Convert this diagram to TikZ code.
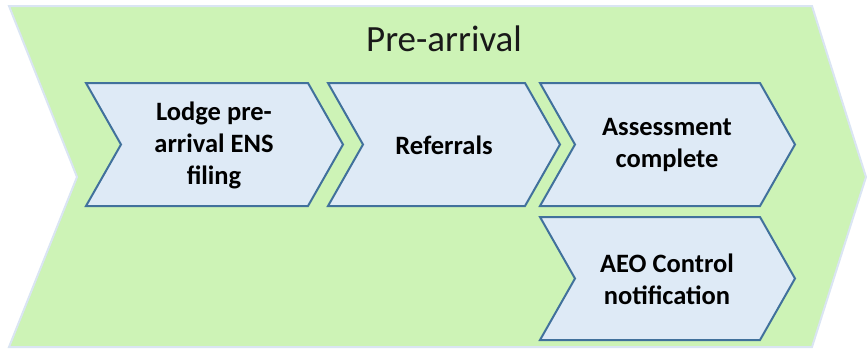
\documentclass[tikz,border=0pt]{standalone}
\usepackage{fontspec}
\setmainfont{Carlito}
\definecolor{outerfill}{RGB}{205,243,182}
\definecolor{outerline}{RGB}{218,229,243}
\definecolor{boxfill}{RGB}{222,234,246}
\definecolor{boxline}{RGB}{65,113,156}
\newcommand\mychev[6]{%
  % #1 x0, #2 x1, #3 y0, #4 y1, #5 depth, #6 style
  \path[#6] (#1,#3) -- (#2,#3) -- ({#2+#5},{(#3+#4)/2}) -- (#2,#4) -- (#1,#4) -- ({#1+#5},{(#3+#4)/2}) -- cycle;}
\begin{document}
\begin{tikzpicture}[x=1pt,y=-1pt,
  outerstyle/.style={fill=outerfill,draw=outerline,line width=2pt,line join=miter},
  boxstyle/.style={fill=boxfill,draw=boxline,line width=2pt,line join=miter},
  boxtext/.style={align=center,font=\fontsize{26.5}{32}\selectfont\bfseries,text=black,inner sep=0pt},
  titletext/.style={font=\fontsize{37}{44}\selectfont,text=black!90,inner sep=0pt,anchor=base}]
\useasboundingbox (0,0) rectangle (868,351);
\path[outerstyle] (9,6) -- (812,6) -- (866,177) -- (812,347) -- (9,347) -- (77,177) -- cycle;
\node[titletext] (title) at (444,51) {Pre-arrival};
\mychev{86}{308}{83}{206}{35}{boxstyle}
\mychev{328}{525}{83}{206}{35}{boxstyle}
\mychev{540}{760}{83}{206}{35}{boxstyle}
\mychev{540}{760}{217}{340}{35}{boxstyle}
\node[boxtext] (lodge) at (214,145) {Lodge pre-\\arrival ENS\\filing};
\node[boxtext] (ref) at (444,145) {Referrals};
\node[boxtext] (assess) at (667,145) {Assessment\\complete};
\node[boxtext] (aeo) at (667,279) {AEO Control\\notification};
\end{tikzpicture}
\end{document}
